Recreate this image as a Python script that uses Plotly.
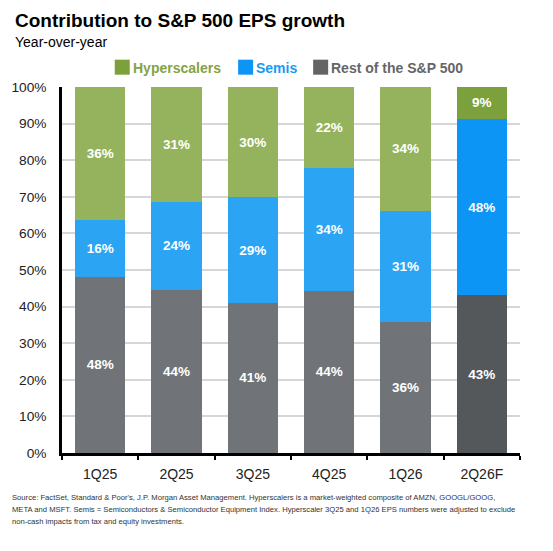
import plotly.graph_objects as go

quarters = ["1Q25", "2Q25", "3Q25", "4Q25", "1Q26", "2Q26F"]
rest = [48.2, 44.6, 41.0, 44.4, 35.7, 43.1]
semis = [15.4, 24.1, 28.9, 33.5, 30.5, 48.2]
hyper = [36.4, 31.3, 30.1, 22.1, 33.8, 8.7]
rest_lbl = [48, 44, 41, 44, 36, 43]
semis_lbl = [16, 24, 29, 34, 31, 48]
hyper_lbl = [36, 31, 30, 22, 34, 9]
legend_names = ["Hyperscalers", "Semis", "Rest of the S&P 500"]

SANS = "Liberation Sans, Arial"

# page is rendered with an 8px body margin -> work in figure pixels
W, H = 545, 543
PL, PR, PT, PB = 54.3, 512.0, 79.3, 445.0   # plot area in figure px
PW, PH = PR - PL, PB - PT

def px(x):
    return (x - 8 - PL) / PW

def py(y):
    return (PB - (y - 8)) / PH

def cols(base, fc):
    return [base] * (len(quarters) - 1) + [fc]

fig = go.Figure()
series = [
    ("Rest of the S&P 500", rest, rest_lbl, "#707478", "#54585B"),
    ("Semis", semis, semis_lbl, "#2CA4F4", "#0C95F5"),
    ("Hyperscalers", hyper, hyper_lbl, "#94B35C", "#7CA03C"),
]
for name, vals, lbls, c, fc in series:
    fig.add_trace(go.Bar(
        x=quarters, y=vals, name=name,
        marker=dict(color=cols(c, fc), line=dict(width=0)),
        text=[f"<b>{v}%</b>" for v in lbls],
        textposition="inside", insidetextanchor="middle",
        textfont=dict(family=SANS, size=13.5, color="white"),
        textangle=0,
        hoverinfo="skip",
        showlegend=False,
    ))

fig.update_layout(
    width=W, height=H,
    margin=dict(l=PL, r=W - PR, t=PT, b=H - PB, pad=0, autoexpand=False),
    paper_bgcolor="white", plot_bgcolor="white",
    barmode="stack", bargap=0.338,
    font=dict(family=SANS, color="#222222"),
)
fig.update_xaxes(
    automargin=False,
    showline=True, linecolor="black", linewidth=2.5,
    ticks="outside", tickson="boundaries", ticklen=4, tickwidth=2, tickcolor="black",
    tickfont=dict(family=SANS, size=14, color="#222222"),
    ticklabelstandoff=6,
    showgrid=False,
)
fig.update_yaxes(
    automargin=False,
    range=[0, 100], dtick=10, ticksuffix="%",
    showline=True, linecolor="black", linewidth=2.5,
    showgrid=True, gridcolor="#D6D6D6", gridwidth=1.5,
    ticks="", ticklabelstandoff=10,
    tickfont=dict(family=SANS, size=13.7, color="#222222"),
    zeroline=False,
)

# title & subtitle
fig.add_annotation(text="<b>Contribution to S&P 500 EPS growth</b>", xref="paper", yref="paper",
                   x=px(13), y=py(20.5), xanchor="left", yanchor="middle",
                   showarrow=False, font=dict(family=SANS, size=19, color="black"))
fig.add_annotation(text="Year-over-year", xref="paper", yref="paper",
                   x=px(13), y=py(42), xanchor="left", yanchor="middle",
                   showarrow=False, font=dict(family=SANS, size=14, color="black"))

# legend (manual, to match the reference spacing)
leg_sq = [115, 238.3, 313.3]
leg_sq_col = ["#7CA03C", "#0C95F5", "#646464"]
leg_txt_col = ["#84A346", "#1A9BF0", "#666666"]
for name, x0, sc, tc in zip(legend_names, leg_sq, leg_sq_col, leg_txt_col):
    fig.add_shape(type="rect", xref="paper", yref="paper",
                  x0=px(x0), x1=px(x0 + 15), y0=py(75), y1=py(60),
                  fillcolor=sc, line=dict(width=0))
    fig.add_annotation(text=f"<b>{name}</b>", xref="paper", yref="paper",
                       x=px(x0 + 16), y=py(68), xanchor="left", yanchor="middle",
                       showarrow=False, font=dict(family=SANS, size=14, color=tc))

notes = [
    "Source: FactSet, Standard & Poor's, J.P. Morgan Asset Management. Hyperscalers is a market-weighted composite of AMZN, GOOGL/GOOG,",
    "META and MSFT. Semis = Semiconductors & Semiconductor Equipment Index. Hyperscaler 3Q25 and 1Q26 EPS numbers were adjusted to exclude",
    "non-cash impacts from tax and equity investments.",
]
for line, ypage in zip(notes, [497.7, 509.2, 521]):
    fig.add_annotation(text=line, xref="paper", yref="paper",
                       x=px(10), y=py(ypage), xanchor="left", yanchor="middle",
                       showarrow=False, font=dict(family=SANS, size=7.65, color="#333333"))

fig.write_html("out.html")
